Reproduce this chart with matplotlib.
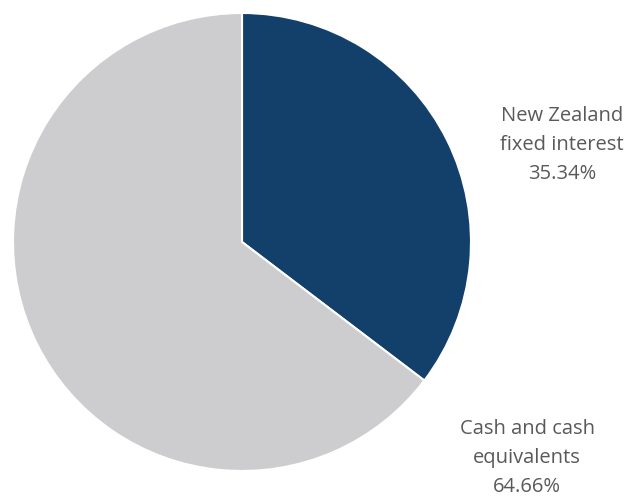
import matplotlib.pyplot as plt

labels = ['New Zealand\nfixed interest', 'Cash and cash\nequivalents']
values = [35.34, 64.66]
colors = ['#133F6B', '#CDCDD0']

W, H = 628, 496
fig = plt.figure(figsize=(W / 100, H / 100), dpi=100)

# pie centred at (242, 242) px from top, radius ~229 px
cx, cy, r = 242, 242, 229
ax = fig.add_axes([(cx - r) / W, (H - cy - r) / H, 2 * r / W, 2 * r / H])
ax.pie(values, colors=colors, startangle=90, counterclock=False,
       wedgeprops=dict(edgecolor='white', linewidth=1.5))
ax.set_xlim(-1, 1)
ax.set_ylim(-1, 1)
ax.set_aspect('equal')

# labels
pos = [(562, 145), (527, 458)]
for lab, v, (px, py) in zip(labels, values, pos):
    fig.text(px / W, 1 - py / H, f'{lab}\n{v:.2f}%', ha='center', va='center',
             fontsize=14.5, color='#595959', family='Open Sans', linespacing=1.6)

fig.savefig('out.png', dpi=100)
